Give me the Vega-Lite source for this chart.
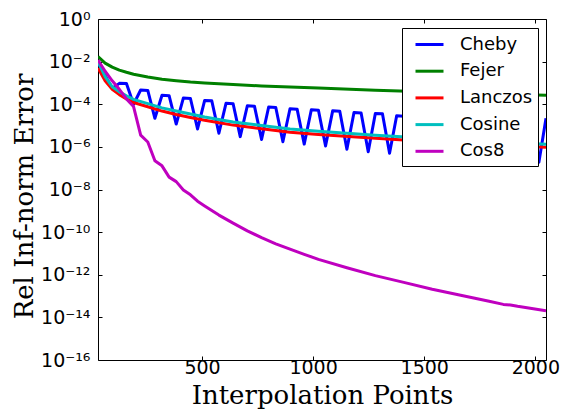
{
  "$schema": "https://vega.github.io/schema/vega-lite/v6.json",
  "width": 448,
  "height": 341,
  "autosize": "none",
  "padding": {"left": 98, "top": 19, "right": 19, "bottom": 57},
  "background": "white",
  "config": {"view": {"stroke": "black", "strokeWidth": 1}},
  "data": {"values": [
    {"x":32,"s":"Cheby","v":8.91e-3},{"x":64,"s":"Cheby","v":2.24e-3},{"x":96,"s":"Cheby","v":5.62e-4},{"x":128,"s":"Cheby","v":9.55e-4},{"x":160,"s":"Cheby","v":9.33e-4},{"x":192,"s":"Cheby","v":1.0e-4},{"x":224,"s":"Cheby","v":4.68e-4},{"x":256,"s":"Cheby","v":4.47e-4},{"x":288,"s":"Cheby","v":2.19e-5},{"x":320,"s":"Cheby","v":2.63e-4},{"x":352,"s":"Cheby","v":2.51e-4},{"x":384,"s":"Cheby","v":1.18e-5},{"x":416,"s":"Cheby","v":1.95e-4},{"x":448,"s":"Cheby","v":1.86e-4},{"x":480,"s":"Cheby","v":6.92e-6},{"x":512,"s":"Cheby","v":1.51e-4},{"x":544,"s":"Cheby","v":1.45e-4},{"x":576,"s":"Cheby","v":4.37e-6},{"x":608,"s":"Cheby","v":1.10e-4},{"x":640,"s":"Cheby","v":1.05e-4},{"x":672,"s":"Cheby","v":3.02e-6},{"x":704,"s":"Cheby","v":8.51e-5},{"x":736,"s":"Cheby","v":8.13e-5},{"x":768,"s":"Cheby","v":2.24e-6},{"x":800,"s":"Cheby","v":7.41e-5},{"x":832,"s":"Cheby","v":7.08e-5},{"x":864,"s":"Cheby","v":1.74e-6},{"x":896,"s":"Cheby","v":6.17e-5},{"x":928,"s":"Cheby","v":5.89e-5},{"x":960,"s":"Cheby","v":1.35e-6},{"x":992,"s":"Cheby","v":5.50e-5},{"x":1024,"s":"Cheby","v":5.25e-5},{"x":1056,"s":"Cheby","v":1.10e-6},{"x":1088,"s":"Cheby","v":4.90e-5},{"x":1120,"s":"Cheby","v":4.68e-5},{"x":1152,"s":"Cheby","v":7.76e-7},{"x":1184,"s":"Cheby","v":4.07e-5},{"x":1216,"s":"Cheby","v":3.89e-5},{"x":1248,"s":"Cheby","v":5.89e-7},{"x":1280,"s":"Cheby","v":3.72e-5},{"x":1312,"s":"Cheby","v":3.55e-5},{"x":1344,"s":"Cheby","v":5.01e-7},{"x":1376,"s":"Cheby","v":2.88e-5},{"x":1408,"s":"Cheby","v":2.75e-5},{"x":1440,"s":"Cheby","v":4.47e-7},{"x":1472,"s":"Cheby","v":2.63e-5},{"x":1504,"s":"Cheby","v":2.51e-5},{"x":1536,"s":"Cheby","v":3.80e-7},{"x":1568,"s":"Cheby","v":2.45e-5},{"x":1600,"s":"Cheby","v":2.40e-5},{"x":1632,"s":"Cheby","v":3.31e-7},{"x":1664,"s":"Cheby","v":2.34e-5},{"x":1696,"s":"Cheby","v":2.29e-5},{"x":1728,"s":"Cheby","v":2.88e-7},{"x":1760,"s":"Cheby","v":2.24e-5},{"x":1792,"s":"Cheby","v":2.19e-5},{"x":1824,"s":"Cheby","v":2.51e-7},{"x":1856,"s":"Cheby","v":2.19e-5},{"x":1888,"s":"Cheby","v":2.14e-5},{"x":1920,"s":"Cheby","v":2.24e-7},{"x":1952,"s":"Cheby","v":2.14e-5},{"x":1984,"s":"Cheby","v":2.09e-5},{"x":2016,"s":"Cheby","v":1.91e-7},{"x":2048,"s":"Cheby","v":2.19e-5},
    {"x":32,"s":"Fejer","v":1.74e-2},{"x":64,"s":"Fejer","v":8.51e-3},{"x":96,"s":"Fejer","v":5.50e-3},{"x":128,"s":"Fejer","v":3.98e-3},{"x":160,"s":"Fejer","v":3.16e-3},{"x":192,"s":"Fejer","v":2.57e-3},{"x":256,"s":"Fejer","v":1.91e-3},{"x":320,"s":"Fejer","v":1.48e-3},{"x":384,"s":"Fejer","v":1.26e-3},{"x":448,"s":"Fejer","v":1.10e-3},{"x":512,"s":"Fejer","v":1.0e-3},{"x":640,"s":"Fejer","v":8.51e-4},{"x":768,"s":"Fejer","v":7.24e-4},{"x":896,"s":"Fejer","v":6.46e-4},{"x":1024,"s":"Fejer","v":5.75e-4},{"x":1280,"s":"Fejer","v":4.57e-4},{"x":1536,"s":"Fejer","v":3.72e-4},{"x":1792,"s":"Fejer","v":3.09e-4},{"x":2048,"s":"Fejer","v":2.63e-4},
    {"x":32,"s":"Lanczos","v":5.01e-3},{"x":64,"s":"Lanczos","v":1.26e-3},{"x":96,"s":"Lanczos","v":5.01e-4},{"x":128,"s":"Lanczos","v":2.82e-4},{"x":160,"s":"Lanczos","v":1.78e-4},{"x":192,"s":"Lanczos","v":1.20e-4},{"x":256,"s":"Lanczos","v":7.59e-5},{"x":320,"s":"Lanczos","v":4.79e-5},{"x":384,"s":"Lanczos","v":3.31e-5},{"x":448,"s":"Lanczos","v":2.40e-5},{"x":512,"s":"Lanczos","v":1.78e-5},{"x":640,"s":"Lanczos","v":1.05e-5},{"x":768,"s":"Lanczos","v":7.08e-6},{"x":896,"s":"Lanczos","v":4.90e-6},{"x":1024,"s":"Lanczos","v":3.80e-6},{"x":1280,"s":"Lanczos","v":2.51e-6},{"x":1536,"s":"Lanczos","v":1.74e-6},{"x":1792,"s":"Lanczos","v":1.26e-6},{"x":2048,"s":"Lanczos","v":9.55e-7},
    {"x":32,"s":"Cosine","v":1.0e-2},{"x":64,"s":"Cosine","v":2.0e-3},{"x":96,"s":"Cosine","v":6.61e-4},{"x":128,"s":"Cosine","v":3.80e-4},{"x":160,"s":"Cosine","v":2.51e-4},{"x":192,"s":"Cosine","v":1.70e-4},{"x":256,"s":"Cosine","v":1.07e-4},{"x":320,"s":"Cosine","v":6.76e-5},{"x":384,"s":"Cosine","v":4.79e-5},{"x":448,"s":"Cosine","v":3.47e-5},{"x":512,"s":"Cosine","v":2.51e-5},{"x":640,"s":"Cosine","v":1.48e-5},{"x":768,"s":"Cosine","v":1.0e-5},{"x":896,"s":"Cosine","v":6.92e-6},{"x":1024,"s":"Cosine","v":5.37e-6},{"x":1280,"s":"Cosine","v":3.55e-6},{"x":1536,"s":"Cosine","v":2.45e-6},{"x":1792,"s":"Cosine","v":1.78e-6},{"x":2048,"s":"Cosine","v":1.32e-6},
    {"x":32,"s":"Cos8","v":1.20e-2},{"x":64,"s":"Cos8","v":3.55e-3},{"x":96,"s":"Cos8","v":1.26e-3},{"x":128,"s":"Cos8","v":5.01e-4},{"x":160,"s":"Cos8","v":1.78e-4},{"x":192,"s":"Cos8","v":7.76e-5},{"x":224,"s":"Cos8","v":3.55e-6},{"x":256,"s":"Cos8","v":1.70e-6},{"x":288,"s":"Cos8","v":2.24e-7},{"x":320,"s":"Cos8","v":1.29e-7},{"x":352,"s":"Cos8","v":3.80e-8},{"x":384,"s":"Cos8","v":2.34e-8},{"x":416,"s":"Cos8","v":9.55e-9},{"x":448,"s":"Cos8","v":5.62e-9},{"x":480,"s":"Cos8","v":2.82e-9},{"x":512,"s":"Cos8","v":1.70e-9},{"x":576,"s":"Cos8","v":6.31e-10},{"x":640,"s":"Cos8","v":2.63e-10},{"x":704,"s":"Cos8","v":1.15e-10},{"x":768,"s":"Cos8","v":5.50e-11},{"x":832,"s":"Cos8","v":2.82e-11},{"x":896,"s":"Cos8","v":1.58e-11},{"x":960,"s":"Cos8","v":9.12e-12},{"x":1024,"s":"Cos8","v":5.25e-12},{"x":1152,"s":"Cos8","v":2.14e-12},{"x":1280,"s":"Cos8","v":9.12e-13},{"x":1408,"s":"Cos8","v":4.37e-13},{"x":1536,"s":"Cos8","v":2.09e-13},{"x":1664,"s":"Cos8","v":1.10e-13},{"x":1792,"s":"Cos8","v":5.75e-14},{"x":1856,"s":"Cos8","v":4.07e-14},{"x":1888,"s":"Cos8","v":3.80e-14},{"x":1920,"s":"Cos8","v":3.31e-14},{"x":1984,"s":"Cos8","v":2.63e-14},{"x":2048,"s":"Cos8","v":2.04e-14}
  ]},
  "layer": [
    {
      "mark": {"type": "line", "strokeWidth": 3, "strokeJoin": "round", "clip": true},
      "encoding": {
        "x": {"field": "x", "type": "quantitative",
          "scale": {"domain": [32, 2048], "nice": false, "zero": false},
          "axis": {"values": [500, 1000, 1500, 2000], "format": "d", "title": "Interpolation Points",
            "titleFont": "DejaVu Serif", "titleFontSize": 26, "titleFontWeight": "normal", "titleColor": "black",
            "titleBaseline": "alphabetic", "titleY": 43,
            "labelFont": "DejaVu Sans", "labelFontSize": 19, "labelColor": "black", "labelFlush": false,
            "labelBaseline": "alphabetic", "labelPadding": 17.5,
            "tickSize": -4, "tickColor": "black", "domain": false, "grid": false}},
        "y": {"field": "v", "type": "quantitative",
          "scale": {"type": "log", "domain": [1e-16, 1], "nice": false},
          "axis": {"values": [1, 0.01, 0.0001, 0.000001, 0.00000001, 0.0000000001, 0.000000000001, 0.00000000000001, 0.0000000000000001],
            "labelExpr": "datum.value > 0.1 ? '10⁰' : datum.value > 0.001 ? '10⁻²' : datum.value > 0.00001 ? '10⁻⁴' : datum.value > 0.0000001 ? '10⁻⁶' : datum.value > 0.000000001 ? '10⁻⁸' : datum.value > 0.00000000001 ? '10⁻¹⁰' : datum.value > 0.0000000000001 ? '10⁻¹²' : datum.value > 0.000000000000001 ? '10⁻¹⁴' : '10⁻¹⁶'",
            "title": "Rel Inf-norm Error", "titleFont": "DejaVu Serif", "titleFontSize": 26, "titleFontWeight": "normal", "titleColor": "black",
            "titleX": -66, "titleY": 177, "titleAngle": -90, "titleBaseline": "alphabetic",
            "labelFont": "DejaVu Sans", "labelFontSize": 19, "labelColor": "black", "labelPadding": 12,
            "tickSize": -4, "tickColor": "black", "domain": false, "grid": false}},
        "color": {"field": "s", "type": "nominal",
          "scale": {"domain": ["Cheby", "Fejer", "Lanczos", "Cosine", "Cos8"],
                    "range": ["#0000ff", "#008000", "#ff0000", "#00bfbf", "#bf00bf"]},
          "sort": ["Cheby", "Fejer", "Lanczos", "Cosine", "Cos8"],
          "legend": {"orient": "none", "legendX": 304, "legendY": 9, "title": null,
            "strokeColor": "black", "fillColor": "white", "padding": 5, "cornerRadius": 0,
            "symbolType": "M-0.3,0L2.5,0", "symbolSize": 400, "symbolStrokeWidth": 3,
            "labelFont": "DejaVu Sans", "labelFontSize": 18, "labelColor": "black", "labelOffset": 30,
            "rowPadding": 5.7}}
      }
    },
    {
      "mark": {"type": "point", "opacity": 0},
      "encoding": {
        "x": {"field": "x", "type": "quantitative",
          "scale": {"domain": [32, 2048], "nice": false, "zero": false},
          "axis": {"orient": "top", "values": [500, 1000, 1500, 2000], "labels": false, "title": null,
            "tickSize": -4, "tickColor": "black", "domain": false, "grid": false}},
        "y": {"field": "v", "type": "quantitative",
          "scale": {"type": "log", "domain": [1e-16, 1], "nice": false},
          "axis": {"orient": "right", "values": [1, 0.01, 0.0001, 0.000001, 0.00000001, 0.0000000001, 0.000000000001, 0.00000000000001, 0.0000000000000001], "labels": false, "title": null,
            "tickSize": -4, "tickColor": "black", "domain": false, "grid": false}}
      }
    }
  ],
  "resolve": {"axis": {"x": "independent", "y": "independent"}}
}
